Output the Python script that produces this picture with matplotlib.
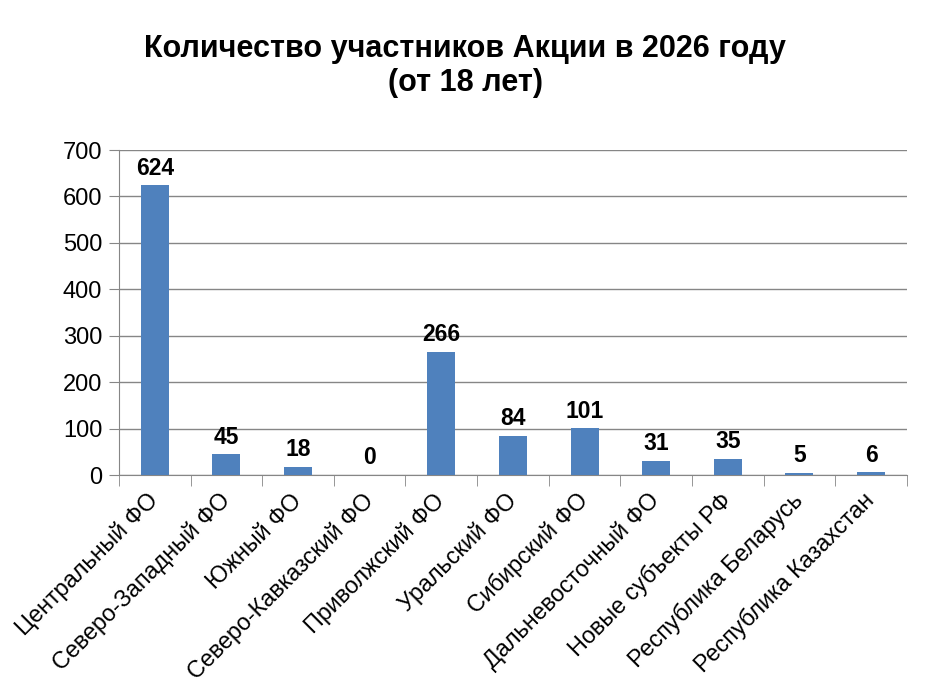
import matplotlib.pyplot as plt

plt.rcParams['font.family'] = ['Liberation Sans', 'DejaVu Sans']

regions = ["Центральный ФО", "Северо-Западный ФО", "Южный ФО", "Северо-Кавказский ФО",
           "Приволжский ФО", "Уральский ФО", "Сибирский ФО", "Дальневосточный ФО",
           "Новые субъекты РФ", "Республика Беларусь", "Республика Казахстан"]
participants = [624, 45, 18, 0, 266, 84, 101, 31, 35, 5, 6]
y_ticks = [0, 100, 200, 300, 400, 500, 600, 700]

fig = plt.figure(figsize=(9.33, 7), dpi=100)
ax = fig.add_axes([0.1275, 0.3214, 0.8445, 0.4643])

x = list(range(len(regions)))
bars = ax.bar(x, participants, width=0.39, color="#4F81BD", zorder=3)

for xi, v in zip(x, participants):
    ax.text(xi, v + 12, str(v), ha="center", va="bottom", fontsize=16.5, fontweight="bold")

ax.set_xlim(-0.5, len(regions) - 0.5)
ax.set_ylim(0, 700)
ax.set_yticks(y_ticks)
ax.tick_params(axis="y", labelsize=17, length=7, color="#868686", pad=5)
ax.yaxis.grid(True, color="#868686", linewidth=1, zorder=0)

# category labels at centers, tick marks at boundaries
ax.set_xticks(x)
ax.set_xticklabels(regions, rotation=45, ha="right", va="center", rotation_mode="anchor", fontsize=16.8)
ax.tick_params(axis="x", length=0, pad=16)
ax.set_xticks([i - 0.5 for i in range(len(regions) + 1)], minor=True)
ax.tick_params(axis="x", which="minor", length=8, color="#868686", direction="out")

for side in ["top", "right"]:
    ax.spines[side].set_visible(False)
ax.spines["left"].set_color("#868686")
ax.spines["bottom"].set_color("#868686")

fig.text(0.4985, 0.906, "Количество участников Акции в 2026 году\n(от 18 лет)",
         ha="center", va="center", fontsize=22, fontweight="bold", linespacing=1.2)

fig.savefig("out.png", dpi=100)
